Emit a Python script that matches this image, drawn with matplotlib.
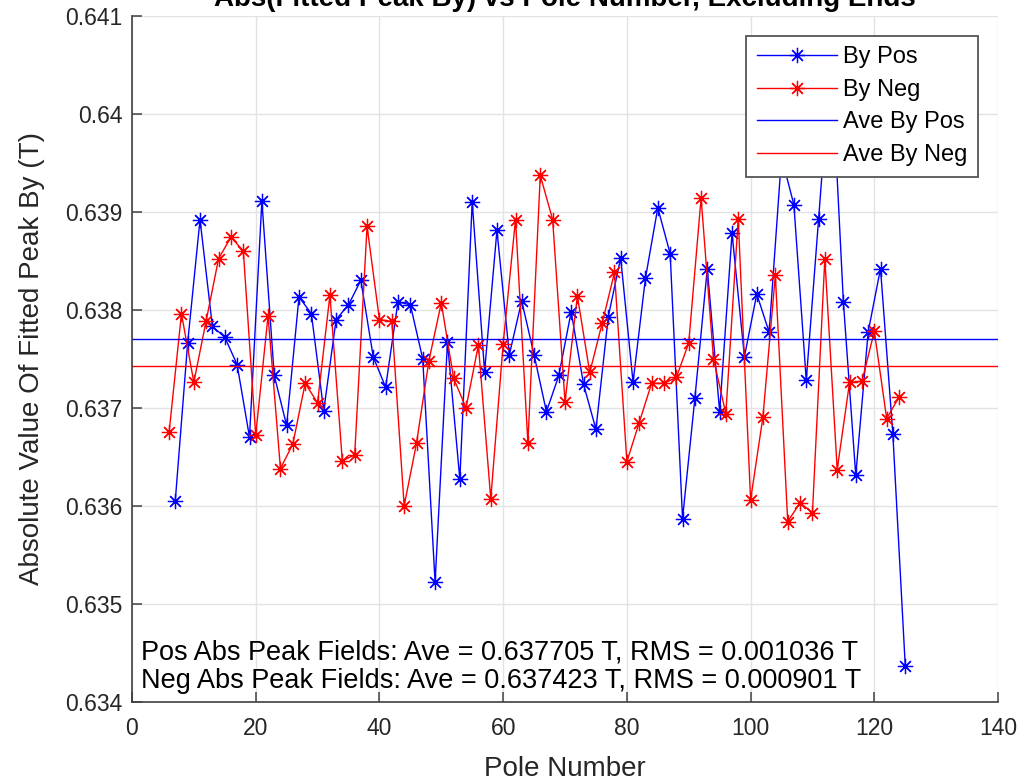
import matplotlib
matplotlib.use('Agg')
import matplotlib.pyplot as plt

# Pole numbers (ends excluded)
pos_poles = list(range(7, 126, 2))
neg_poles = list(range(6, 125, 2))

# |Fitted peak By| (T)
pos_by = [0.63605, 0.63766, 0.63892, 0.63783, 0.63772, 0.63744, 0.63670, 0.63911, 0.63733, 0.63682,
          0.63813, 0.63796, 0.63697, 0.63790, 0.63805, 0.63830, 0.63752, 0.63721, 0.63808, 0.63805,
          0.63750, 0.63522, 0.63767, 0.63627, 0.63910, 0.63737, 0.63881, 0.63754, 0.63809, 0.63754,
          0.63696, 0.63733, 0.63798, 0.63724, 0.63678, 0.63793, 0.63853, 0.63726, 0.63832, 0.63904,
          0.63857, 0.63587, 0.63710, 0.63842, 0.63696, 0.63878, 0.63752, 0.63816, 0.63777, 0.63956,
          0.63907, 0.63728, 0.63893, 0.64060, 0.63808, 0.63631, 0.63777, 0.63842, 0.63673, 0.63437]
neg_by = [0.63675, 0.63796, 0.63726, 0.63789, 0.63852, 0.63874, 0.63860, 0.63672, 0.63794, 0.63638,
          0.63663, 0.63725, 0.63705, 0.63815, 0.63646, 0.63652, 0.63885, 0.63790, 0.63788, 0.63600,
          0.63664, 0.63748, 0.63807, 0.63730, 0.63700, 0.63764, 0.63607, 0.63765, 0.63892, 0.63664,
          0.63937, 0.63892, 0.63706, 0.63814, 0.63736, 0.63786, 0.63838, 0.63645, 0.63685, 0.63725,
          0.63725, 0.63731, 0.63766, 0.63914, 0.63750, 0.63694, 0.63893, 0.63606, 0.63691, 0.63835,
          0.63584, 0.63603, 0.63593, 0.63852, 0.63637, 0.63726, 0.63727, 0.63778, 0.63689, 0.63711]

ave_pos = 0.637705
ave_neg = 0.637423
rms_pos = 0.001036
rms_neg = 0.000901

yticks = [0.634, 0.635, 0.636, 0.637, 0.638, 0.639, 0.640, 0.641]
ytick_labels = ['0.634', '0.635', '0.636', '0.637', '0.638', '0.639', '0.64', '0.641']
xticks = [0, 20, 40, 60, 80, 100, 120, 140]

plt.rcParams['font.family'] = ['Liberation Sans', 'DejaVu Sans']
txt_col = '#262626'

fig = plt.figure(figsize=(10.27, 7.84), dpi=100)
ax = fig.add_axes([0.1285, 0.1046, 0.8433, 0.8756])

star = (8, 2, 0)
ax.plot(pos_poles, pos_by, color='b', lw=1.0, marker=star, ms=11, mew=0.9, label='By Pos')
ax.plot(neg_poles, neg_by, color='r', lw=1.0, marker=star, ms=11, mew=0.9, label='By Neg')
ax.axhline(ave_pos, color='b', lw=1.0, label='Ave By Pos')
ax.axhline(ave_neg, color='r', lw=1.0, label='Ave By Neg')

ax.set_xlim(0, 140)
ax.set_ylim(0.634, 0.641)
ax.set_xticks(xticks)
ax.set_yticks(yticks)
ax.set_yticklabels(ytick_labels)
ax.grid(True, color='#e3e3e3', lw=1.0)
ax.set_axisbelow(True)
for s in ['top', 'right']:
    ax.spines[s].set_visible(False)
for s in ['left', 'bottom']:
    ax.spines[s].set_color('#404040')
    ax.spines[s].set_linewidth(1.2)
ax.tick_params(direction='in', length=7, width=1.1, color='#404040',
               labelsize=16.5, labelcolor=txt_col)
ax.tick_params(axis='y', pad=7)
ax.tick_params(axis='x', pad=11)

ax.set_xlabel('Pole Number', fontsize=20, color=txt_col, labelpad=11)
ax.set_ylabel('Absolute Value Of Fitted Peak By (T)', fontsize=20, color=txt_col, labelpad=14)
ax.set_title('Abs(Fitted Peak By) vs Pole Number, Excluding Ends', fontsize=20,
             fontweight='bold', pad=7)

ax.text(0.0104, 0.0728, 'Pos Abs Peak Fields: Ave = %.6f T, RMS = %.6f T' % (ave_pos, rms_pos),
        transform=ax.transAxes, fontsize=19.5, va='center', ha='left')
ax.text(0.0104, 0.0306, 'Neg Abs Peak Fields: Ave = %.6f T, RMS = %.6f T' % (ave_neg, rms_neg),
        transform=ax.transAxes, fontsize=19.5, va='center', ha='left')

leg = ax.legend(loc='upper right', fontsize=17, fancybox=False, framealpha=1,
                edgecolor='#555555', borderaxespad=0.85, handlelength=3.4,
                handletextpad=0.25, labelspacing=0.45, borderpad=0.45)
leg.get_frame().set_linewidth(1.3)

fig.savefig('out.png', dpi=100)
